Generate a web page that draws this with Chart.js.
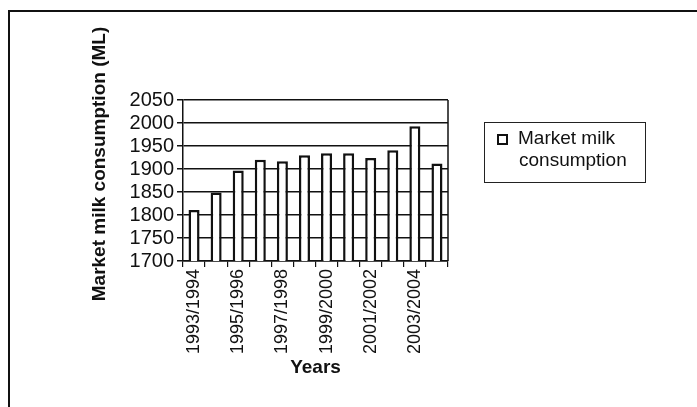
<!DOCTYPE html>
<html>
<head>
<meta charset="utf-8">
<script src="https://cdn.jsdelivr.net/npm/chart.js@4.4.1/dist/chart.umd.min.js"></script>
<style>
  html, body { margin: 0; padding: 0; background: #fff; overflow: hidden; }
  #wrap { position: relative; width: 697px; height: 407px; }
  #frame {
    position: absolute; left: 8px; top: 10px; width: 720px; height: 420px;
    border-top: 2px solid #111; border-left: 2px solid #111;
  }
  #legend {
    position: absolute; left: 484px; top: 122px; width: 160px; height: 59px;
    border: 1px solid #222; font-family: "Liberation Sans", Arial, sans-serif;
    font-size: 19px; color: #111; line-height: 22px;
  }
  #legend .mark {
    position: absolute; left: 12px; top: 11px; width: 7px; height: 7px;
    border: 2px solid #111; background: #fff;
  }
  #legend .txt { position: absolute; left: 33px; top: 4px; }
  #legend .txt span { display: block; }
  #legend .txt span.l2 { padding-left: 1px; }
</style>
</head>
<body>
<div id="wrap">
  <div id="frame"></div>
  <canvas id="c" width="697" height="407"></canvas>
  <div id="legend">
    <div class="mark"></div>
    <div class="txt"><span>Market milk</span><span class="l2">consumption</span></div>
  </div>
</div>
<script>
const years = ["1993/1994", "1994/1995", "1995/1996", "1996/1997", "1997/1998", "1998/1999",
  "1999/2000", "2000/2001", "2001/2002", "2002/2003", "2003/2004", "2004/2005"];
const consumption = [1811, 1849, 1897, 1920, 1917, 1930, 1934, 1934, 1924, 1941, 1993, 1912];
const yMin = 1700, yMax = 2050, yStep = 50;
const yTitle = "Market milk consumption (ML)";

const font = "'Liberation Sans', Arial, sans-serif";

// right border of the plot area + y title (sits a bit higher than the axis centre)
const plotExtras = {
  id: "plotExtras",
  afterDraw(chart) {
    const { ctx, chartArea } = chart;
    ctx.save();
    ctx.strokeStyle = "#111";
    ctx.lineWidth = 1.5;
    ctx.beginPath();
    ctx.moveTo(chartArea.right, chartArea.top);
    ctx.lineTo(chartArea.right, chartArea.bottom);
    ctx.stroke();

    ctx.translate(100, chartArea.top + 64);
    ctx.rotate(-Math.PI / 2);
    ctx.fillStyle = "#111";
    ctx.font = "bold 19px " + font;
    ctx.textAlign = "center";
    ctx.textBaseline = "middle";
    ctx.fillText(yTitle, 0, 0);
    ctx.restore();
  }
};

new Chart(document.getElementById("c"), {
  type: "bar",
  data: {
    labels: years,
    datasets: [{
      label: "Market milk consumption",
      data: consumption,
      backgroundColor: "#fff",
      borderColor: "#111",
      borderWidth: 2.5,
      barPercentage: 0.5,
      categoryPercentage: 1
    }]
  },
  options: {
    responsive: false,
    animation: false,
    layout: { padding: { left: 86, right: 249, top: 100, bottom: 28 } },
    plugins: { legend: { display: false }, tooltip: { enabled: false } },
    scales: {
      x: {
        afterFit(scale) { scale.height = 118; },
        grid: { offset: true, drawOnChartArea: false, color: "#111", tickLength: 6, lineWidth: 1.2 },
        border: { color: "#111", width: 1.5 },
        ticks: {
          autoSkip: false, maxRotation: 90, minRotation: 90, padding: 2,
          color: "#111", font: { family: font, size: 18 },
          callback(v, i) { return i % 2 === 0 ? years[i] : ""; }
        },
        title: {
          display: true, text: "Years", color: "#111",
          font: { family: font, size: 19, weight: "bold" }, padding: { top: 0, bottom: 0 }
        }
      },
      y: {
        min: yMin, max: yMax,
        afterFit(scale) { scale.width = 97; },
        grid: { color: "#111", lineWidth: 1.5, tickLength: 6 },
        border: { color: "#111", width: 1.5 },
        ticks: {
          stepSize: yStep, autoSkip: false, color: "#111", padding: 3,
          font: { family: font, size: 20 },
          callback(v) { return String(v); }
        },
        title: { display: false }
      }
    }
  },
  plugins: [plotExtras]
});
</script>
</body>
</html>
